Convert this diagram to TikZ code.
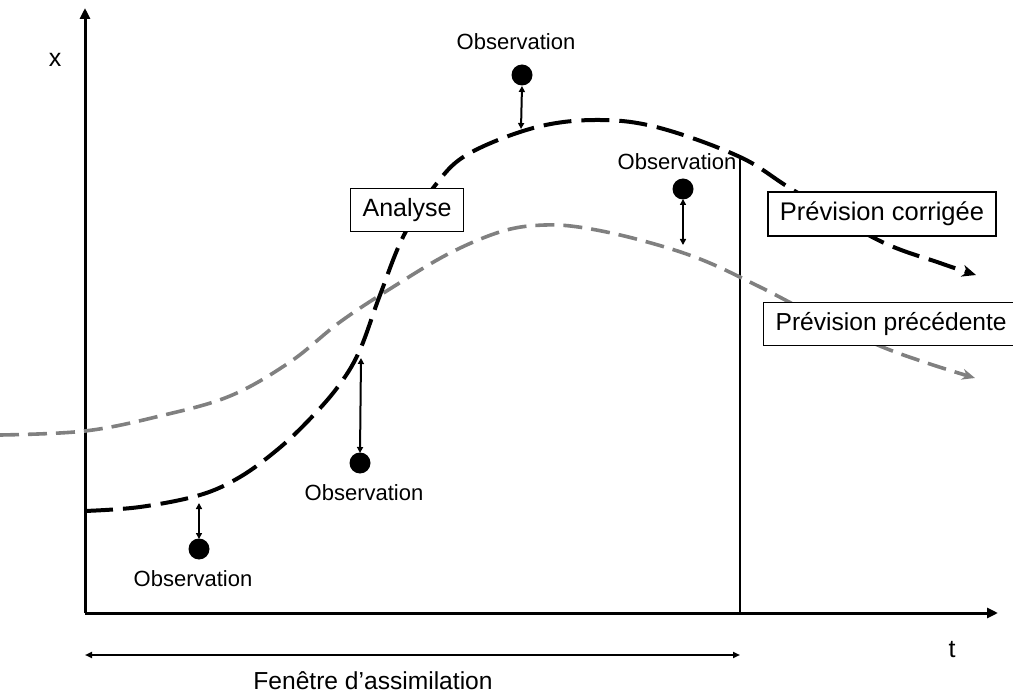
\documentclass[tikz,border=0pt]{standalone}
\usepackage{fontspec}
\setmainfont{Liberation Sans}
\usetikzlibrary{arrows.meta}
\definecolor{prevgray}{RGB}{128,128,128}
\tikzset{
  axis/.style={line width=3pt, -{Triangle[length=11pt,width=10pt]}},
  gap/.style={line width=2pt, {Triangle[length=6pt,width=6pt]}-{Triangle[length=6pt,width=6pt]}},
  obsdot/.style={circle, fill=black, minimum size=21pt, inner sep=0pt},
  obslabel/.style={font=\fontsize{22}{26}\selectfont, inner sep=0pt},
  tag/.style={draw=black, line width=1.2pt, fill=white, inner xsep=12pt, inner ysep=10pt},
  analysis/.style={line width=4pt, dash pattern=on 28pt off 10pt, -{Stealth[length=14pt,width=12pt]}},
  previous/.style={prevgray, line width=3.6pt, dash pattern=on 19pt off 9pt, -{Stealth[length=13pt,width=11pt]}},
}
\begin{document}
\begin{tikzpicture}[x=1pt,y=-1pt]
\useasboundingbox (0,0) rectangle (1013,695);

% labels of the observations (drawn first, the curves pass over them)
\node[obslabel] (l1) at (516,42) {Observation};
\node[obslabel] (l2) at (677,162) {Observation};
\node[obslabel] (l3) at (364,493) {Observation};
\node[obslabel] (l4) at (193,579) {Observation};

% axes
\coordinate (O) at (85,613);
\coordinate (ytip) at (85,8);
\coordinate (xtip) at (998,613);
\draw[axis] (O) -- (ytip);
\draw[axis] (O) -- (xtip);
\node[font=\fontsize{25}{29}\selectfont] (xlab) at (55,60) {x};
\node[font=\fontsize{25}{29}\selectfont] (tlab) at (952,650) {t};

% end of the assimilation window
\coordinate (wbot) at (740,613);
\coordinate (wtop) at (740,159);
\draw[line width=2.4pt] (wbot) -- (wtop);

% previous forecast
\draw[previous] plot[smooth, tension=0.6] coordinates {
  (0,435) (85,431) (160,416) (230,396) (290,362) (340,322) (393,287)
  (450,253) (503,231) (545,225) (585,228) (640,240) (700,259) (760,287)
  (820,318) (880,346) (930,364) (975,378)};

% analysis and corrected forecast
\draw[analysis] plot[smooth, tension=0.6] coordinates {
  (85,511) (140,507) (200,495) (240,477) (277,450) (307,422) (337,388)
  (359,352) (380,295) (404,235) (437,183) (470,153) (537,127) (600,120)
  (660,128) (740,157) (793,190) (878,240) (940,263) (976,275)};

% observations and their distance to the curves
\node[obsdot] (o1) at (522,75) {};
\node[obsdot] (o2) at (683,189) {};
\node[obsdot] (o3) at (360,463) {};
\node[obsdot] (o4) at (199,549) {};
\coordinate (c1) at (521,129);
\coordinate (c2) at (683,245);
\coordinate (c3) at (361,358);
\coordinate (c4) at (199,503);
\draw[gap] (c1) -- (o1.south |- 0,86);
\draw[gap] (o2.south |- 0,199) -- (c2);
\draw[gap] (c3) -- (o3.north |- 0,453);
\draw[gap] (c4) -- (o4.north |- 0,539);

% boxed captions
\node[tag, font=\fontsize{25}{29}\selectfont, anchor=west] (ana) at (350,210) {Analyse};
\node[tag, font=\fontsize{25.5}{29}\selectfont] (corr) at (882,214) {Prévision corrigée};
\node[tag, font=\fontsize{24.6}{29}\selectfont, anchor=west] (prev) at (763,324) {Prévision précédente};

% assimilation window
\coordinate (wl) at (85,655);
\coordinate (wr) at (740,655);
\draw[line width=1.8pt, {Triangle[length=7pt,width=6pt]}-{Triangle[length=7pt,width=6pt]}] (wl) -- (wr);
\node[font=\fontsize{24.6}{28}\selectfont] (win) at (373,681) {Fenêtre d’assimilation};
\end{tikzpicture}
\end{document}
